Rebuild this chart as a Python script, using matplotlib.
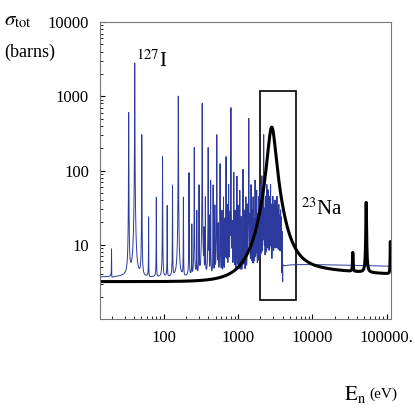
import matplotlib
matplotlib.use("Agg")
import matplotlib.pyplot as plt
import numpy as np
from matplotlib.patches import Rectangle
from matplotlib.ticker import FixedLocator, FixedFormatter, LogLocator, NullFormatter

plt.rcParams['font.family'] = ['Liberation Serif', 'DejaVu Serif']
plt.rcParams['mathtext.fontset'] = 'stix'

# 127I resonances: energy (eV), peak height (barns)
i_energy = [20, 34, 41, 51, 63, 80, 97, 112, 132, 158, 185, 220, 259, 300, 331, 365,
            398, 430, 464, 520, 575, 640, 692, 750, 805, 880, 970, 1060, 1170, 1280,
            1400, 1500, 1600, 1700, 1790, 1900, 2000, 2100, 2220, 2350, 2450, 2550,
            2650, 2750, 2830, 2950, 3050, 3150, 3250, 3350, 3450, 3550, 3650, 3750, 3850]
i_peak = [5, 600, 2800, 300, 20, 40, 150, 30, 60, 1000, 40, 90, 200, 60, 800, 40,
          200, 70, 60, 300, 120, 40, 150, 60, 700, 90, 80, 50, 100, 40,
          500, 60, 40, 70, 50, 40, 60, 80, 300, 40, 60, 50, 40, 60, 30, 40, 30,
          35, 30, 40, 25, 30, 20, 25, 20]
# weaker 127I lines filling the dense region
i_energy_weak = [240, 280, 350, 410, 490, 545, 610, 670, 720, 780, 840, 920, 1010,
                 1110, 1220, 1340, 1450, 1550, 1650, 1750, 1850, 1950, 2050, 2160,
                 2290, 2400, 2500, 2600, 2700, 2800, 2900, 3000, 3100, 3200, 3300,
                 3400, 3500, 3600, 3700, 3800, 3950]
i_peak_weak = [15, 25, 12, 20, 30, 15, 25, 18, 30, 20, 15, 25, 30, 20, 25, 30, 20,
               25, 18, 30, 22, 25, 20, 30, 25, 20, 28, 22, 25, 20, 22, 18, 25, 20,
               18, 22, 15, 20, 15, 18, 12]
i_base_low = 3.3
i_base_high = 5.6

# 23Na resonances: energy (eV), peak (barns), half width (eV)
na_energy = [2850, 35000, 53000, 112000]
na_peak = [380, 3.5, 33, 7]
na_width = [330, 300, 500, 700]
na_base = 3.2

E = np.logspace(np.log10(14), np.log10(114000), 150000)

blue = np.where(E < 4000, i_base_low, i_base_high - 0.3 * np.log10(E / 4000))
for e0, p in zip(i_energy + i_energy_weak, i_peak + i_peak_weak):
    g = 0.0025 * e0
    x = (E - e0) / g
    blue = blue + p / (1 + x ** 2) - 1.2 * x / (1 + x ** 2)
blue = np.clip(blue, 1.5, None)

black = na_base + 1.6 / (1 + (3000 / E) ** 2) * (1e4 / E) ** 0.25
for e0, p, g in zip(na_energy, na_peak, na_width):
    g_eff = g * np.minimum(E / e0, 1.0)
    black = black + p / (1 + ((E - e0) / g_eff) ** 2)

fig = plt.figure(figsize=(4.15, 4.15), dpi=100)
ax = fig.add_axes([0.241, 0.231, 0.701, 0.716])
ax.plot(E, blue, color='#2b3a9c', lw=0.7)
ax.plot(E, black, color='black', lw=2.2)
ax.add_patch(Rectangle((2000, 1.8), 4000, 1170 - 1.8, fill=False, ec='black', lw=1.2))
ax.set_xscale('log')
ax.set_yscale('log')
ax.set_xlim(14, 114000)
ax.set_ylim(1, 10000)
ax.xaxis.set_major_locator(FixedLocator([100, 1000, 10000, 100000]))
ax.xaxis.set_major_formatter(FixedFormatter(['100', '1000', '10000', '100000.']))
ax.yaxis.set_major_locator(FixedLocator([10, 100, 1000, 10000]))
ax.yaxis.set_major_formatter(FixedFormatter(['10', '100', '1000', '10000']))
for a in (ax.xaxis, ax.yaxis):
    a.set_minor_locator(LogLocator(subs=np.arange(2, 10)))
    a.set_minor_formatter(NullFormatter())
ax.tick_params(which='both', direction='in', labelsize=12, pad=8)
ax.tick_params(which='minor', length=2)
for s in ax.spines.values():
    s.set_color('#777777')

fig.text(0.01, 0.95, r'$\sigma_{\rm tot}$', fontsize=15, va='center')
fig.text(0.01, 0.875, '(barns)', fontsize=13, va='center')
fig.text(0.83, 0.05, r'$\mathrm{E_n}$', fontsize=15, va='center')
fig.text(0.89, 0.05, '(eV)', fontsize=11, va='center')
ax.text(42, 2500, r'$^{127}$I', fontsize=15)
ax.text(7000, 25, r'$^{23}$Na', fontsize=15)

fig.savefig('out.png')
